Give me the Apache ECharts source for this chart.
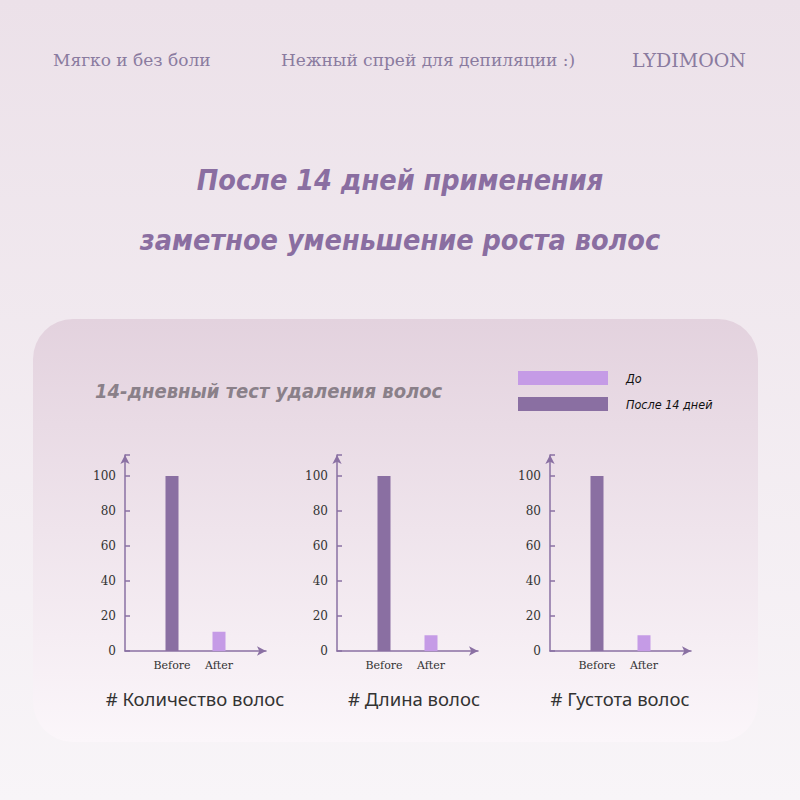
<!DOCTYPE html>
<html>
<head>
<meta charset="utf-8">
<script src="https://cdn.jsdelivr.net/npm/echarts@6/dist/echarts.min.js"></script>
<style>
  html, body { margin: 0; padding: 0; }
  #chart { width: 800px; height: 800px; }
</style>
</head>
<body>
<div id="chart"></div>
<script>
// data
const categories = ['', 'Before', 'After', ''];
const panelNames = ['# Количество волос', '# Длина волос', '# Густота волос'];
const beforeValues = [100, 100, 100];
const afterValues = [11, 9, 9];
const legendNames = ['До', 'После 14 дней'];
const yTicks = [0, 20, 40, 60, 80, 100];

const light = '#c59be6';
const dark = '#8a6fa2';
const axisColor = '#8a70a3';
const serif = '"DejaVu Serif", serif';
const cond = '"DejaVu Sans Condensed", "DejaVu Sans", sans-serif';

const gridLefts = [125, 337, 550];

const chart = echarts.init(document.getElementById('chart'), null, { renderer: 'svg' });

const grids = [], xAxes = [], yAxes = [], series = [];
gridLefts.forEach((left, i) => {
  grids.push({ left: left, top: 455, width: 141, height: 196 });
  xAxes.push({
    type: 'category', gridIndex: i, data: categories, boundaryGap: false,
    axisLine: { lineStyle: { color: axisColor, width: 1.5 }, symbol: ['none', 'arrow'], symbolSize: [7, 9] },
    axisTick: { show: false },
    axisLabel: { color: '#333', fontFamily: serif, fontSize: 11, margin: 9, interval: 0, hideOverlap: false }
  });
  yAxes.push({
    type: 'value', gridIndex: i, min: 0, max: 112, interval: 20,
    axisLine: { show: true, lineStyle: { color: axisColor, width: 1.5 }, symbol: ['none', 'arrow'], symbolSize: [7, 9] },
    axisTick: { show: true, inside: true, length: 5, lineStyle: { color: axisColor, width: 1.5 } },
    splitLine: { show: false },
    axisLabel: {
      color: '#333', fontFamily: serif, fontSize: 12, margin: 9,
      formatter: v => (yTicks.indexOf(v) >= 0 ? String(v) : '')
    }
  });
  series.push({
    name: legendNames[1], type: 'bar', stack: 's' + i, xAxisIndex: i, yAxisIndex: i,
    barWidth: 13, itemStyle: { color: dark },
    data: ['-', beforeValues[i], '-', '-']
  });
  series.push({
    name: legendNames[0], type: 'bar', stack: 's' + i, xAxisIndex: i, yAxisIndex: i,
    barWidth: 13, itemStyle: { color: light },
    data: ['-', '-', afterValues[i], '-']
  });
});

const panelCenters = [195, 414, 620];
const graphics = [
  {
    type: 'rect', z: -10, shape: { x: 33, y: 319, width: 725, height: 423, r: 40 },
    style: {
      fill: new echarts.graphic.LinearGradient(0, 0, 0, 1, [
        { offset: 0, color: '#e3d2de' }, { offset: 1, color: '#fbf6fa' }
      ])
    }
  },
  { type: 'text', left: 53, top: 51, style: { text: 'Мягко и без боли', font: '17px ' + serif, fill: '#8a7b9f' } },
  { type: 'text', left: 281, top: 51, style: { text: 'Нежный спрей для депиляции :)', font: '17px ' + serif, fill: '#8a7b9f' } },
  { type: 'text', left: 632, top: 50, style: { text: 'LYDIMOON', font: '19px ' + serif, fill: '#8a7b9f' } },
  { type: 'text', x: 400, y: 180, style: { text: 'После 14 дней применения', font: 'italic bold 28.5px ' + cond, fill: '#8a6ea1', align: 'center', verticalAlign: 'middle' } },
  { type: 'text', x: 400, y: 240, style: { text: 'заметное уменьшение роста волос', font: 'italic bold 28.5px ' + cond, fill: '#8a6ea1', align: 'center', verticalAlign: 'middle' } },
  { type: 'text', x: 95, y: 391, style: { text: '14-дневный тест удаления волос', font: 'italic bold 20px ' + cond, fill: '#8a8089', verticalAlign: 'middle' } }
];
panelNames.forEach((name, i) => {
  graphics.push({
    type: 'text', x: panelCenters[i], y: 698,
    style: { text: name, font: '18.5px "Noto Sans", sans-serif', fill: '#333', align: 'center', verticalAlign: 'middle' }
  });
});

chart.setOption({
  backgroundColor: new echarts.graphic.LinearGradient(0, 0, 0, 1, [
    { offset: 0, color: '#ece1e9' }, { offset: 1, color: '#f8f5f8' }
  ]),
  animation: false,
  legend: {
    data: legendNames, orient: 'vertical', left: 513, top: 366,
    itemWidth: 90, itemHeight: 14, itemGap: 12, icon: 'rect',
    selectedMode: false,
    textStyle: { color: '#111', fontFamily: cond, fontStyle: 'italic', fontSize: 12.5, padding: [0, 0, 0, 13] }
  },
  grid: grids,
  xAxis: xAxes,
  yAxis: yAxes,
  series: series,
  graphic: graphics
});
</script>
</body>
</html>
